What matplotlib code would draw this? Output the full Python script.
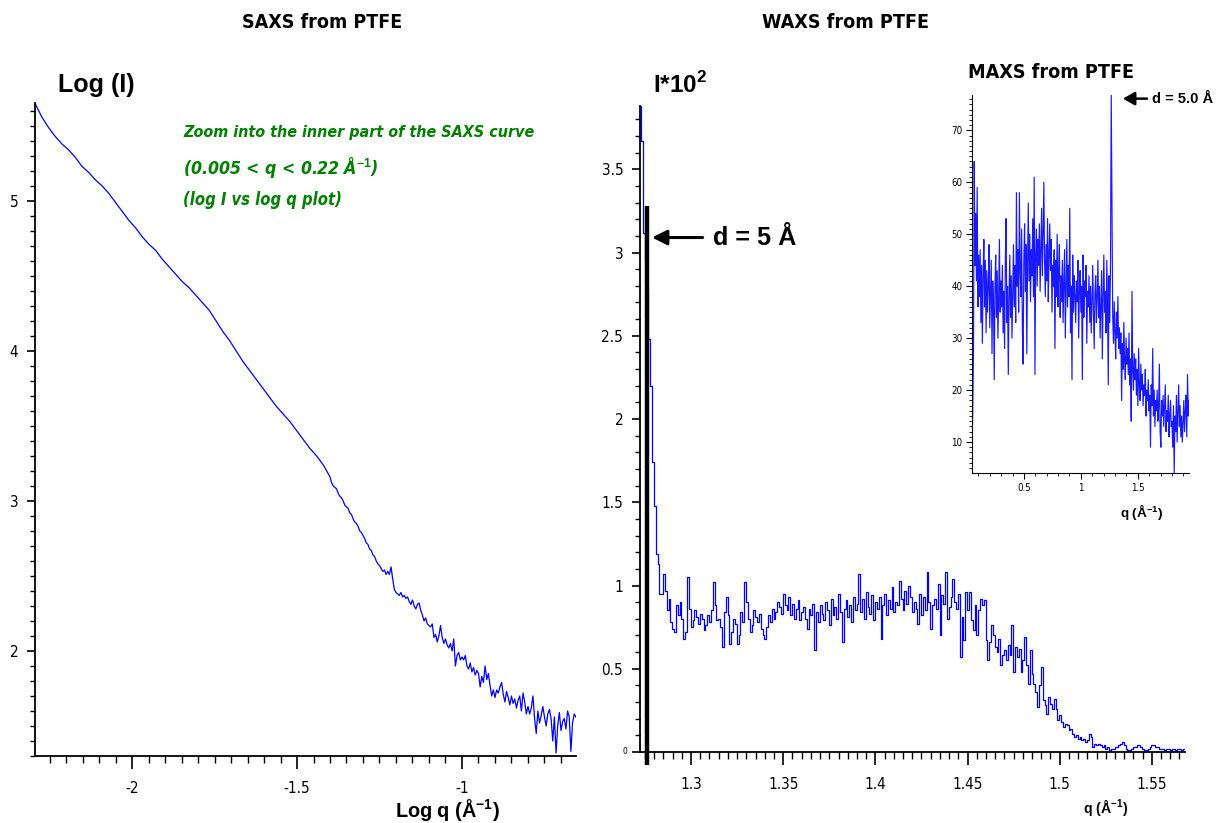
#!/usr/bin/env python3
"""SAXS / WAXS / MAXS curves from PTFE - three panel layout."""
import numpy as np
import matplotlib
matplotlib.use('Agg')
import matplotlib.pyplot as plt
from matplotlib.ticker import MultipleLocator, FuncFormatter

# ---------------- data ----------------
# SAXS: log I vs log q, smooth inner part then the noisy outer part
SAXS_LOGQ_SMOOTH = (-2.294, -1.400)
SAXS_LOGI_SMOOTH = [
    5.65, 5.56, 5.49, 5.43, 5.38, 5.34, 5.29, 5.23, 5.19, 5.14,
    5.10, 5.05, 4.99, 4.93, 4.87, 4.82, 4.76, 4.71, 4.67, 4.61,
    4.56, 4.51, 4.46, 4.42, 4.37, 4.32, 4.27, 4.20, 4.13, 4.07,
    4.00, 3.93, 3.87, 3.81, 3.75, 3.69, 3.63, 3.58, 3.53, 3.47,
    3.41, 3.35, 3.30, 3.24, 3.16]
SAXS_LOGQ_NOISY = (-1.395, -0.655)
SAXS_LOGI_NOISY = [
    3.12, 3.10, 3.09, 3.08, 3.05, 3.03, 3.02, 3.00, 2.97, 2.96,
    2.95, 2.92, 2.91, 2.88, 2.86, 2.85, 2.83, 2.80, 2.79, 2.77,
    2.75, 2.72, 2.71, 2.68, 2.67, 2.64, 2.63, 2.60, 2.58, 2.57,
    2.55, 2.53, 2.54, 2.51, 2.53, 2.51, 2.56, 2.48, 2.41, 2.39,
    2.38, 2.37, 2.39, 2.36, 2.37, 2.35, 2.36, 2.33, 2.31, 2.34,
    2.30, 2.28, 2.31, 2.32, 2.27, 2.24, 2.20, 2.22, 2.18, 2.17,
    2.16, 2.18, 2.09, 2.11, 2.06, 2.10, 2.17, 2.09, 2.05, 2.08,
    2.04, 2.02, 2.05, 2.00, 2.08, 1.90, 1.97, 1.99, 1.94, 1.96,
    1.94, 1.97, 1.90, 1.88, 1.92, 1.86, 1.89, 1.84, 1.87, 1.85,
    1.76, 1.83, 1.79, 1.90, 1.81, 1.85, 1.77, 1.70, 1.74, 1.69,
    1.74, 1.72, 1.76, 1.79, 1.71, 1.66, 1.73, 1.69, 1.64, 1.70,
    1.65, 1.68, 1.62, 1.67, 1.70, 1.60, 1.72, 1.66, 1.58, 1.63,
    1.58, 1.62, 1.70, 1.55, 1.45, 1.60, 1.52, 1.57, 1.63, 1.56,
    1.50, 1.58, 1.61, 1.55, 1.40, 1.56, 1.32, 1.50, 1.59, 1.47,
    1.53, 1.55, 1.48, 1.60, 1.56, 1.33, 1.52, 1.58, 1.56]

# WAXS: I*10^2 vs q (1/A)
WAXS_Q = (1.2723, 1.5673)
WAXS_I = [
    3.88, 3.67, 3.12, 2.95, 2.75, 2.48, 2.20, 1.74, 1.48, 1.19,
    1.13, 0.95, 0.95, 1.07, 0.97, 0.85, 0.92, 0.78, 0.74, 0.72,
    0.88, 0.82, 0.90, 0.80, 0.68, 0.72, 1.05, 0.86, 0.75, 0.79,
    0.85, 0.81, 0.77, 0.83, 0.80, 0.73, 0.76, 0.82, 0.78, 0.85,
    1.02, 0.88, 0.79, 0.80, 0.75, 0.63, 0.84, 0.93, 0.82, 0.65,
    0.72, 0.80, 0.77, 0.65, 0.70, 0.84, 0.78, 1.02, 0.90, 0.80,
    0.72, 0.76, 0.85, 0.81, 0.78, 0.83, 0.74, 0.70, 0.68, 0.75,
    0.82, 0.78, 0.86, 0.80, 0.84, 0.90, 0.87, 0.83, 0.95, 0.88,
    0.85, 0.93, 0.82, 0.89, 0.80, 0.86, 0.91, 0.79, 0.84, 0.87,
    0.80, 0.74, 0.86, 0.82, 0.89, 0.61, 0.84, 0.78, 0.88, 0.83,
    0.79, 0.90, 0.85, 0.76, 0.92, 0.82, 0.87, 0.80, 0.95, 0.84,
    0.66, 0.86, 0.91, 0.81, 0.88, 0.78, 0.93, 0.85, 0.89, 1.07,
    0.84, 0.92, 0.80, 0.96, 0.87, 0.83, 0.94, 0.79, 0.90, 0.86,
    0.93, 0.68, 0.88, 0.95, 0.82, 0.91, 0.86, 0.99, 0.84, 0.90,
    0.88, 1.03, 0.92, 0.85, 0.97, 0.89, 1.00, 0.93, 0.84, 0.90,
    0.86, 0.77, 0.95, 0.82, 0.93, 0.85, 1.08, 0.90, 0.74, 0.88,
    0.92, 0.86, 1.01, 0.70, 0.94, 0.89, 1.08, 0.80, 0.87, 0.93,
    1.04, 0.90, 0.86, 0.95, 0.57, 0.81, 0.67, 0.96, 0.85, 0.96,
    0.79, 0.73, 0.88, 0.70, 0.85, 0.92, 0.88, 0.91, 0.67, 0.55,
    0.66, 0.76, 0.70, 0.63, 0.60, 0.68, 0.52, 0.58, 0.61, 0.55,
    0.64, 0.58, 0.76, 0.48, 0.63, 0.57, 0.62, 0.48, 0.55, 0.69,
    0.52, 0.41, 0.61, 0.47, 0.41, 0.36, 0.27, 0.40, 0.51, 0.31,
    0.28, 0.23, 0.33, 0.29, 0.26, 0.32, 0.26, 0.19, 0.22, 0.18,
    0.15, 0.17, 0.16, 0.13, 0.14, 0.11, 0.09, 0.10, 0.08, 0.09,
    0.07, 0.08, 0.06, 0.07, 0.11, 0.09, 0.03, 0.05, 0.04, 0.05,
    0.04, 0.03, 0.04, 0.02, 0.03, 0.01, 0.02, 0.02, 0.03, 0.03,
    0.04, 0.05, 0.06, 0.04, 0.02, 0.01, 0.01, 0.02, 0.03, 0.03,
    0.04, 0.04, 0.03, 0.02, 0.01, 0.01, 0.02, 0.03, 0.04, 0.04,
    0.03, 0.03, 0.02, 0.02, 0.02, 0.01, 0.02, 0.02, 0.01, 0.02,
    0.02, 0.01, 0.02, 0.02, 0.01, 0.02]
D_PEAK_Q = 1.2760        # thick black marker of the d = 5 A reflection
D_PEAK_TOP = 3.28

# MAXS inset: I vs q (1/A)
MAXS_Q = (0.044, 1.95)
MAXS_I = [
    7, 16, 27, 64, 44, 54, 41, 59, 36, 46,
    38, 47, 33, 44, 29, 42, 49, 36, 45, 31,
    43, 35, 40, 48, 32, 39, 45, 27, 41, 37,
    22, 40, 46, 34, 43, 30, 38, 49, 35, 41,
    36, 44, 31, 39, 28, 45, 53, 33, 40, 23,
    38, 46, 34, 42, 30, 39, 48, 36, 44, 33,
    58, 40, 47, 35, 58, 43, 38, 51, 32, 25,
    45, 52, 39, 48, 27, 44, 56, 41, 50, 37,
    47, 42, 53, 38, 61, 23, 46, 51, 40, 49,
    44, 52, 39, 47, 55, 42, 50, 60, 45, 38,
    48, 41, 53, 37, 46, 52, 43, 49, 35, 44,
    40, 47, 28, 45, 38, 50, 36, 43, 48, 34,
    42, 37, 45, 33, 41, 47, 30, 39, 49, 36,
    44, 38, 55, 31, 40, 22, 46, 35, 42, 38,
    33, 41, 37, 45, 30, 39, 43, 35, 40, 22,
    46, 34, 41, 38, 44, 29, 39, 36, 42, 33,
    40, 31, 37, 44, 35, 28, 39, 42, 33, 38,
    45, 34, 40, 30, 37, 43, 26, 38, 46, 35,
    39, 31, 45, 36, 21, 42, 33, 44, 77, 55,
    34, 29, 37, 31, 26, 35, 30, 38, 28, 32,
    27, 31, 18, 29, 24, 33, 26, 22, 30, 25,
    28, 23, 31, 21, 26, 14, 39, 24, 20, 27,
    22, 26, 19, 24, 17, 28, 21, 18, 25, 20,
    23, 17, 21, 19, 24, 15, 20, 18, 22, 16,
    19, 9, 21, 17, 28, 15, 20, 13, 18, 16,
    20, 14, 17, 25, 12, 9, 18, 15, 19, 13,
    17, 21, 12, 16, 14, 19, 11, 15, 18, 13,
    14, 9, 17, 4, 15, 12, 19, 10, 16, 21,
    13, 17, 11, 15, 10, 14, 18, 12, 16, 19,
    11, 23, 15, 18]

# ---------------- styling ----------------
BOLD = ['Liberation Sans', 'DejaVu Sans']
COND = ['Liberation Sans Narrow', 'DejaVu Sans']
GREEN = '#008000'
plt.rcParams['font.family'] = COND
plt.rcParams['font.stretch'] = 'condensed'
plt.rcParams['axes.unicode_minus'] = False
plt.rcParams['mathtext.fontset'] = 'custom'
plt.rcParams['mathtext.rm'] = 'Liberation Sans'
plt.rcParams['mathtext.bf'] = 'Liberation Sans:bold'

W, H = 1222, 823
fig = plt.figure(figsize=(W / 100, H / 100), dpi=100)


def box(l, t, r, b):
    return [l / W, 1 - b / H, (r - l) / W, (b - t) / H]


def fx(x):
    return x / W


def fy(y):
    return 1 - y / H


def style(ax, xmaj, xmin, ymaj, ymin, big=True):
    for s in ('top', 'right'):
        ax.spines[s].set_visible(False)
    for s in ('left', 'bottom'):
        ax.spines[s].set_linewidth(1.3 if big else 0.8)
    ax.xaxis.set_major_locator(MultipleLocator(xmaj))
    ax.xaxis.set_minor_locator(MultipleLocator(xmin))
    ax.yaxis.set_major_locator(MultipleLocator(ymaj))
    ax.yaxis.set_minor_locator(MultipleLocator(ymin))
    fmt = FuncFormatter(lambda v, p: '%g' % round(v, 3))
    ax.xaxis.set_major_formatter(fmt)
    ax.yaxis.set_major_formatter(fmt)
    if big:
        ax.tick_params(axis='x', which='major', length=9, width=1.2, pad=9, labelsize=11)
        ax.tick_params(axis='x', which='minor', length=5, width=1.0)
        ax.tick_params(axis='y', which='major', length=6, width=1.2, pad=6, labelsize=11)
        ax.tick_params(axis='y', which='minor', length=3.5, width=1.0)
    else:
        ax.tick_params(axis='both', which='major', length=4, width=0.8, pad=3, labelsize=7)
        ax.tick_params(axis='both', which='minor', length=2, width=0.6)


fits = []

# ---- SAXS panel ----
ax1 = fig.add_axes(box(35, 103, 576, 756))
q1a = np.linspace(*SAXS_LOGQ_SMOOTH, len(SAXS_LOGI_SMOOTH))
q1b = np.linspace(*SAXS_LOGQ_NOISY, len(SAXS_LOGI_NOISY))
ax1.plot(np.concatenate([q1a, q1b]), SAXS_LOGI_SMOOTH + SAXS_LOGI_NOISY,
         color='blue', lw=0.9)
ax1.set_xlim(-2.294, -0.6545)
ax1.set_ylim(1.30, 5.652)
style(ax1, 0.5, 0.05, 1, 0.1)

# ---- WAXS panel ----
ax2 = fig.add_axes(box(640, 106, 1185, 752))
q2 = np.linspace(*WAXS_Q, len(WAXS_I))
ax2.plot(q2, WAXS_I, color='blue', lw=0.9, drawstyle='steps-mid')
ax2.plot([D_PEAK_Q, D_PEAK_Q], [-0.08, D_PEAK_TOP], color='black', lw=3.2,
         solid_capstyle='butt', clip_on=False, zorder=4)
ax2.set_xlim(1.2723, 1.568)
ax2.set_ylim(0, 3.88)
style(ax2, 0.05, 0.005, 0.5, 0.1)
ax2.yaxis.set_major_formatter(FuncFormatter(lambda v, p: '' if abs(v) < 1e-9 else '%g' % v))
ax2.annotate('0', xy=(0, 0), xycoords=('axes fraction', 'data'), xytext=(-9, 0),
             textcoords='offset points', ha='right', va='center', fontsize=6)
ax2.annotate('', xy=(1.2788, 3.09), xytext=(1.3063, 3.09),
             arrowprops=dict(arrowstyle='-|>,head_length=0.9,head_width=0.45',
                             lw=2.2, color='black', shrinkA=0, shrinkB=0))
t = ax2.text(1.3121, 3.09, 'd = 5 Å', ha='left', va='center', fontsize=17,
             fontweight='bold', family=BOLD, fontstretch='normal')
fits.append((t, 84))

# ---- MAXS inset ----
ax3 = fig.add_axes(box(972, 95, 1189, 473))
q3 = np.linspace(*MAXS_Q, len(MAXS_I))
ax3.plot(q3, MAXS_I, color='blue', lw=0.85, alpha=0.9)
ax3.set_xlim(0.044, 1.95)
ax3.set_ylim(4.04, 76.8)
style(ax3, 0.5, 0.1, 10, 1, big=False)
ax3.annotate('', xy=(1.37, 76.1), xytext=(1.581, 76.1), annotation_clip=False,
             arrowprops=dict(arrowstyle='-|>,head_length=0.7,head_width=0.4',
                             lw=1.8, color='black', shrinkA=0, shrinkB=0))
t = ax3.text(1.625, 76.1, 'd = 5.0 Å', ha='left', va='center', fontsize=9,
             fontweight='bold', family=BOLD, fontstretch='normal', clip_on=False)
fits.append((t, 61))

# ---- titles and labels ----
for txt, cx, cy, w in [('SAXS from PTFE', 322.5, 22, 161),
                       ('WAXS from PTFE', 845, 22, 168),
                       ('MAXS from PTFE', 1051.5, 72, 167)]:
    t = fig.text(fx(cx), fy(cy), txt, ha='center', va='center', fontsize=15,
                 fontweight='bold')
    fits.append((t, w))

t = fig.text(fx(58), fy(85), 'Log (I)', ha='left', va='center', fontsize=18,
             fontweight='bold', family=BOLD, fontstretch='normal')
fits.append((t, 77))
t = fig.text(fx(653), fy(85), r'I*10$^{\mathbf{2}}$', ha='left', va='center',
             fontsize=18, fontweight='bold', family=BOLD, fontstretch='normal')
fits.append((t, 54))

for txt, cx, cy, w, fs in [(r'Log q (Å$^{\mathbf{-1}}$)', 447.5, 810, 105, 15),
                           (r'q (Å$^{\mathbf{-1}}$)', 1105.5, 808, 45, 12),
                           (r'q (Å$^{\mathbf{-1}}$)', 1141.5, 512, 43, 11)]:
    t = fig.text(fx(cx), fy(cy), txt, ha='center', va='center', fontsize=fs,
                 fontweight='bold', family=BOLD, fontstretch='normal')
    fits.append((t, w))

for txt, cy, w in [('Zoom into the inner part of the SAXS curve', 133, 352),
                   (r'(0.005 < q < 0.22 Å$^{\mathbf{-1}}$)', 167, 195),
                   ('(log I vs log q plot)', 200, 159)]:
    t = fig.text(fx(183), fy(cy), txt, ha='left', va='center', fontsize=12,
                 fontweight='bold', style='italic', color=GREEN)
    fits.append((t, w))

# scale the free texts so their widths match the reference
renderer = fig.canvas.get_renderer()
for t, w in fits:
    cur = t.get_window_extent(renderer=renderer).width
    if cur > 0:
        t.set_fontsize(t.get_fontsize() * w / cur)

fig.savefig('out.png', dpi=100, facecolor='white')
